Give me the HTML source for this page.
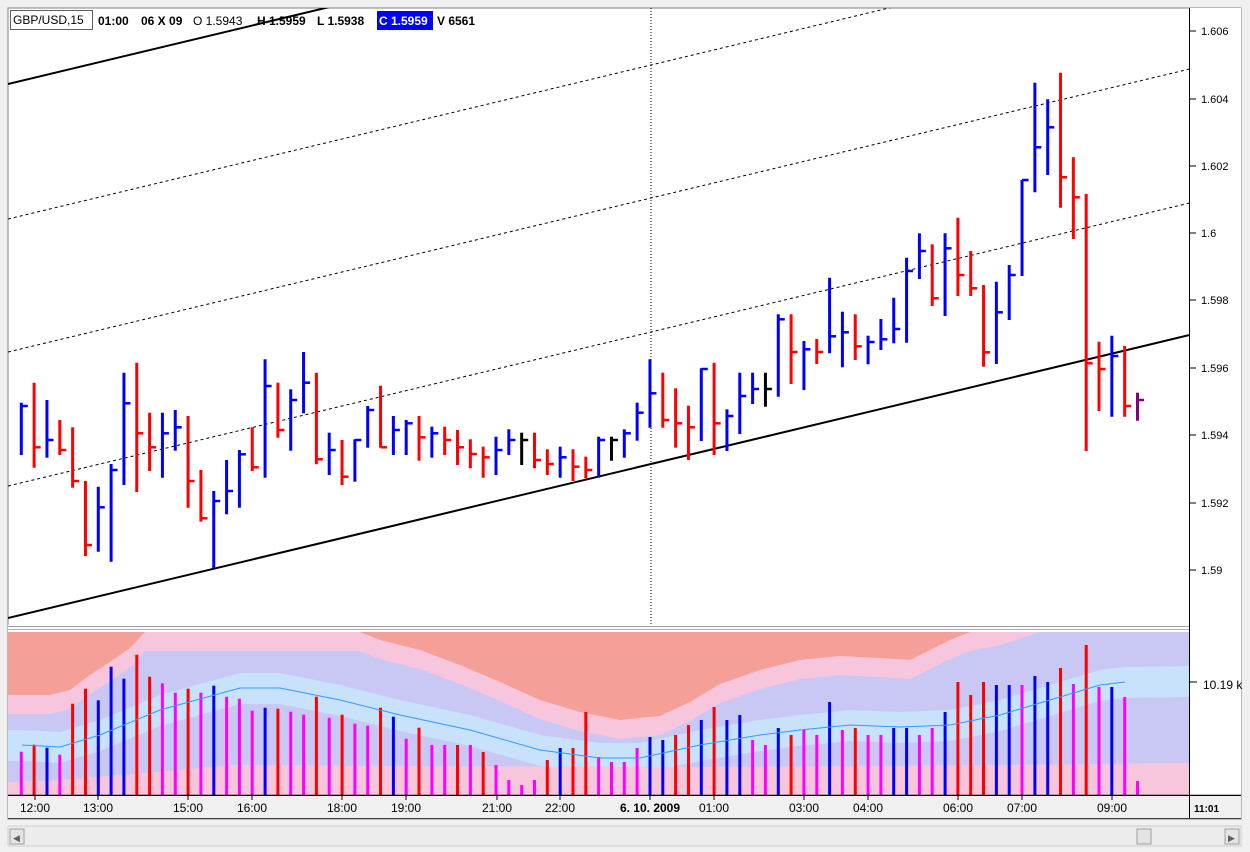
<!DOCTYPE html>
<html><head><meta charset="utf-8">
<style>
html,body{margin:0;padding:0;background:#f0f0f0;}
body{width:1250px;height:852px;overflow:hidden;font-family:"Liberation Sans",Arial,sans-serif;}
svg{display:block}
</style></head>
<body>
<svg id="s" width="1250" height="852" xmlns="http://www.w3.org/2000/svg" font-family="Liberation Sans, Arial, sans-serif">
<rect x="0" y="0" width="1250" height="852" fill="#f0f0f0"/>
<rect x="8" y="8" width="1233" height="811" fill="#ffffff" stroke="#808080" stroke-width="1"/>
<g id="vol"></g>
<line x1="651" y1="8" x2="651" y2="625" stroke="#000" stroke-width="1" stroke-dasharray="1,2"/>
<g id="lines"></g>
<g id="bars"></g>
<rect x="8" y="625" width="1233" height="7" fill="#ffffff"/>
<line x1="8" y1="626.5" x2="1241" y2="626.5" stroke="#a0a0a0"/>
<line x1="8" y1="629.5" x2="1241" y2="629.5" stroke="#a0b0c8"/>
<rect x="1190" y="8" width="51" height="787" fill="#fff"/>
<line x1="1189.5" y1="8" x2="1189.5" y2="819" stroke="#000"/>
<line x1="8" y1="795.5" x2="1241" y2="795.5" stroke="#000" stroke-width="1.5"/>
<rect x="8" y="796" width="1181" height="22" fill="#f0f0f0"/>
<rect x="1190" y="796" width="51" height="22" fill="#f0f0f0"/>
<line x1="1189.5" y1="796" x2="1189.5" y2="819" stroke="#000"/>
<line x1="8" y1="818.5" x2="1241" y2="818.5" stroke="#404040"/>
<g id="axis" font-size="11" fill="#000"></g>
<rect x="10.5" y="10.5" width="82" height="19" fill="#fff" stroke="#606060"/>
<text x="13" y="24" font-size="12" fill="#000">GBP/USD,15</text>
<g font-size="12" font-weight="bold" fill="#000">
<text x="98" y="25">01:00</text>
<text x="141" y="25">06 X 09</text>
<text x="193" y="25" font-weight="normal">O 1.5943</text>
<text x="257" y="25">H 1.5959</text>
<text x="317" y="25">L 1.5938</text>
<rect x="377" y="11" width="56" height="19" fill="#0000ff"/>
<text x="379" y="25" fill="#fff">C 1.5959</text>
<text x="437" y="25">V 6561</text>
</g>
<rect x="8" y="826" width="1233" height="20" fill="#ececec" stroke="#d0d0d0"/>
<rect x="10" y="829" width="14" height="15" fill="#e4e4e4" stroke="#a0a0a0"/>
<text x="13" y="841" font-size="9" fill="#606060">◀</text>
<rect x="1137" y="829" width="14" height="15" fill="#e4e4e4" stroke="#a0a0a0"/>
<rect x="1225" y="829" width="14" height="15" fill="#e4e4e4" stroke="#a0a0a0"/>
<text x="1228" y="841" font-size="9" fill="#606060">▶</text>
</svg>
<script>
var NS="http://www.w3.org/2000/svg";
function el(p,t,a,txt){var e=document.createElementNS(NS,t);for(var k in a)e.setAttribute(k,a[k]);if(txt!==undefined)e.textContent=txt;document.getElementById(p).appendChild(e);return e;}
var C={r:"#ff0000",b:"#0000ff",k:"#000000",p:"#800080",m:"#ff00ff"};
var clip='<clipPath id="vc"><rect x="8" y="632" width="1181" height="163"/></clipPath>';
var s=document.getElementById('s');
var defs=document.createElementNS(NS,'defs');defs.innerHTML=clip;s.insertBefore(defs,s.firstChild.nextSibling);
var vg=document.getElementById('vol');vg.setAttribute('clip-path','url(#vc)');
el('vol','rect',{x:8,y:632,width:1181,height:163,fill:"#c9c8f4"});
var sal=[[8,695],[50,695],[70,690],[90,675],[110,662],[130,648],[145,632],[360,632],[380,640],[420,650],[460,665],[500,682],[540,700],[580,712],[620,720],[660,716],[690,702],[720,684],[760,670],[800,660],[840,656],[880,658],[910,660],[930,650],[950,640],[970,632]];
var pinkTop=sal.map(function(p){return [p[0],p[1]+19];});
pinkTop=pinkTop.concat([[1000,645],[1040,632]]);
function poly(pts,top){var s=(top?"8,632 ":"");pts.forEach(function(p){s+=p[0]+","+p[1]+" ";});return s+(top?"1189,632":"");}
el('vol','polygon',{points:poly(pinkTop,true)+"",fill:"#f8c6dc"});
el('vol','polygon',{points:poly(sal,true),fill:"#f4a098"});
var ma=[[22,745],[60,747],[100,735],[160,710],[240,688],[280,688],[340,700],[400,715],[470,730],[540,750],[600,758],[640,758],[700,745],[760,735],[800,730],[850,725],[900,727],[950,725],[1000,715],[1050,700],[1100,685],[1125,682]];
var band=[[8,745]].concat(ma).concat([[1189,681]]);
var up=band.map(function(p){return p[0]+","+(p[1]-15);}).join(" ");
var dn=band.slice().reverse().map(function(p){return p[0]+","+(p[1]+16);}).join(" ");
el('vol','polygon',{points:up+" "+dn,fill:"#c8e2fb"});
el('vol','polygon',{points:"8,795 8,782 60,780 120,775 180,770 230,765 400,766 700,767 1000,765 1189,763 1189,795",fill:"#f8c6dc"});
var vb=[["m",751.7],["r",744.7],["b",747.7],["m",754.7],["r",703.7],["r",688.7],["b",700.3],["b",666.7],["b",678.7],["r",654.7],["r",676.7],["m",683.3],["m",692.7],["r",688.7],["m",692.7],["b",685.7],["m",696.7],["m",698.7],["m",710.7],["b",707.7],["r",708.7],["m",711.7],["m",714.7],["r",696.7],["m",717.7],["r",714.7],["m",723.7],["m",725.7],["r",707.7],["b",716.7],["m",738.7],["r",727.7],
["m",745],["m",745],["r",745],["m",745],["r",752],["m",765],["m",780],["m",785],["m",780],["r",760],["b",748],["r",748],["r",712],["m",757],["m",762],["m",762],["m",748],["b",737],["b",740],["r",735],["r",725],["b",720],["r",707],["b",720],["b",715],["m",740],["m",745],["b",728],["r",735],["m",730],["m",735],["b",702],["m",730],["r",728],["m",735],["m",735],["b",728],["b",728],["m",735],["m",728],["b",712],["r",682],["r",695],["r",682],["b",685],["b",685],["m",685],["b",676],["b",682],["r",668],["m",684],["r",645],["m",687],["b",687],["m",697],["m",781]];
vb.forEach(function(v,i){var x=(21.3+12.83*i);el('vol','rect',{x:(x-1.5).toFixed(1),y:v[1],width:3,height:795-v[1],fill:C[v[0]]});});
el('vol','polyline',{points:ma.map(function(p){return p.join(",");}).join(" "),fill:"none",stroke:"#3399ff","stroke-width":1});
var d2=document.createElementNS(NS,'clipPath');d2.setAttribute('id','pc');d2.innerHTML='<rect x="8" y="8" width="1181" height="617"/>';defs.appendChild(d2);
document.getElementById('lines').setAttribute('clip-path','url(#pc)');
var sl=-0.2395;
[[618,1,2],[486,0,1],[352,0,1],[219,0,1],[84,1,2]].forEach(function(l){
 var a={x1:8,y1:l[0],x2:1189,y2:l[0]+sl*1181,stroke:"#000","stroke-width":l[2]};
 if(!l[1])a["stroke-dasharray"]="3,3";
 el('lines','line',a);});
var B=[[402.7,455,406,"b"],[382.7,467.7,447.3,"r"],[400,457.7,440,"b"],[420,455,450,"r"],[427.3,487.7,481,"r"],[481,556,545,"r"],[486.7,551.7,507.3,"b"],[464,561.7,470,"b"],[372.7,485,403.3,"b"],[362.7,492,433.3,"r"],[412.7,471,447.3,"r"],[412.7,477.7,433.3,"b"],[410,450.7,427.3,"b"],[416,507.7,481,"r"],[470,521.7,518.3,"r"],[491,568.3,501,"b"],[460,514.3,491,"b"],[450,507.7,454.3,"b"],[427.3,471,467.3,"r"],[359.3,477.7,386,"b"],[382.7,437.7,430,"r"],[389.3,450.7,400,"b"],[352,413.3,382.7,"b"],[372.7,464.3,459.3,"r"],
[432.7,475,450,"b"],[440,485,476.7,"r"],[439.3,481.7,440,"b"],[406,447.7,410,"b"],[385.7,447.7,447.3,"r"],[416,455,430,"b"],[420,455,423.3,"b"],[416,460.7,437.3,"r"],[426.7,457.7,433.3,"b"],[426.7,455,440,"r"],[430,465,447.3,"r"],[439.3,468.3,454,"r"],[446.7,477.7,457.3,"r"],[436.7,475,450,"b"],[429.3,455,440,"b"],[432.7,465,440,"k"],[432.7,468.3,460,"r"],[449.3,475,464,"r"],[446.7,477.7,457.3,"b"],[449.3,481,466.7,"r"],[456.7,478.3,470,"r"],[436.7,477.7,440,"b"],[436.7,460.7,440,"k"],[429.3,457.7,433.3,"b"],[402.7,440.7,412.7,"b"],[359.3,427.7,393.3,"b"],
[372.7,427.7,420,"r"],[388.3,447.7,423.3,"r"],[405.7,460,427.3,"r"],[368.3,441,369,"b"],[362.7,455,423.3,"r"],[409.3,451,416,"b"],[372.7,434,396,"b"],[372.7,404,389,"b"],[372.7,406.7,389,"k"],[314.3,396.7,319.3,"b"],[314.3,384,352,"r"],[341,390,349.3,"b"],[339,364,352,"r"],[277.7,353.3,336.3,"b"],[311.7,367.3,332.3,"b"],[314.3,360,346.3,"r"],[335.7,364.3,342,"b"],[319,350,339.3,"b"],[297.7,343.3,329,"b"],[257.7,342.7,271,"b"],[233.3,279,251,"b"],[244.3,306,298.3,"r"],[233.3,316,248.3,"b"],[217.7,296,275,"r"],[251,296,288.3,"r"],[285,366.7,352.3,"r"],[281.7,364,312.3,"b"],[265,320,275,"b"],[180,276,180,"b"],[82.7,192.3,147.3,"b"],[99.3,175,127.3,"b"],[72.7,207.7,177.3,"r"],[157.3,239,197.3,"r"],[194,451,363.3,"r"],[341.7,411,369,"r"],[335.7,416.7,356,"b"],[346,416.7,406,"r"],[392.7,420.7,400,"p"]];
B.forEach(function(b,i){var x=21.3+12.83*i;var c=C[b[3]];
 el('bars','line',{x1:x,y1:b[0],x2:x,y2:b[1],stroke:c,"stroke-width":3});
 el('bars','line',{x1:x,y1:b[2],x2:x+6.5,y2:b[2],stroke:c,"stroke-width":2.5});});
[["1.606",31],["1.604",99],["1.602",166],["1.6",233],["1.598",300],["1.596",368],["1.594",435],["1.592",503],["1.59",570]].forEach(function(t){
 el('axis','line',{x1:1189,y1:t[1],x2:1196,y2:t[1],stroke:"#000"});
 el('axis','text',{x:1201,y:t[1]+4,"font-size":11},t[0]);});
el('axis','line',{x1:1189,y1:682,x2:1197,y2:682,stroke:"#000"});
el('axis','text',{x:1203,y:689,"font-size":12},"10.19 k");
[["12:00",35],["13:00",98],["15:00",188],["16:00",252],["18:00",342],["19:00",406],["21:00",497],["22:00",560],["6. 10. 2009",650],["01:00",714],["03:00",804],["04:00",868],["06:00",958],["07:00",1022],["09:00",1112]].forEach(function(t){
 el('axis','line',{x1:t[1],y1:796,x2:t[1],y2:800,stroke:"#000"});
 el('axis','text',{x:t[1],y:812,"text-anchor":"middle","font-size":12,"font-weight":(t[0].length>5?"bold":"normal")},t[0]);});
el('axis','text',{x:1194,y:812,"font-size":10,"font-weight":"bold"},"11:01");
</script>
</body></html>
